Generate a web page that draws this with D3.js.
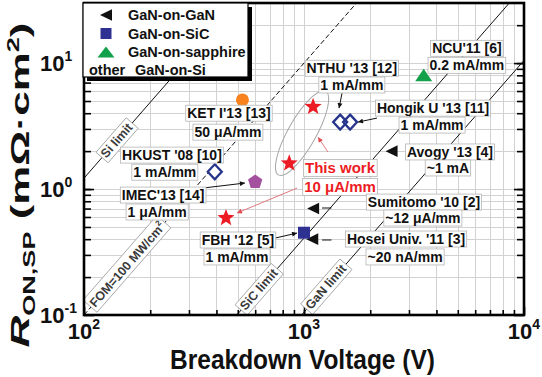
<!DOCTYPE html>
<html><head><meta charset="utf-8">
<script src="https://cdn.jsdelivr.net/npm/d3@7/dist/d3.min.js"></script>
<style>
html,body{margin:0;padding:0;background:#fff;}
svg{display:block;}
text{font-family:"Liberation Sans",Arial,Helvetica,sans-serif;font-weight:bold;}
</style></head>
<body>
<svg id="chart" width="542" height="377"></svg>
<script>
// ---------------- data ----------------
const ganOnGaNV = [2500, 1100, 1090];
const ganOnGaNR = [2.0, 0.70, 0.40];
const ganOnSiCV = [1000];
const ganOnSiCR = [0.45];
const ganOnSapphireV = [3500];
const ganOnSapphireR = [8.0];
const ketV = [525];
const ketR = [5.1];
const hkustV = [393];
const hkustR = [1.37];
const imecV = [600];
const imecR = [1.14];
const hongikV = [1460, 1620];
const hongikR = [3.4, 3.4];
const thisWorkV = [1100, 857, 442];
const thisWorkR = [4.5, 1.6, 0.59];

const limitNames = ["Si limit", "FOM=100 MW/cm", "SiC limit", "GaN limit"];
const limitSup = ["", "2", "", ""];
const limitStartV = [100, 100, 495, 975];
const limitStartR = [1.22, 0.1, 0.1, 0.1];
const limitEndV = [500, 1732, 8574, 10000];
const limitEndR = [30.5, 30, 30, 10.5];
const limitDash = [null, "5,2.5", null, null];
const limitLabelV = [141, 158, 624, 1259];

const xMajor = [100, 1000, 10000];
const xMajorExp = ["2", "3", "4"];
const yMajor = [0.1, 1, 10];
const yMajorExp = ["-1", "0", "1"];
const xGrid = [200,300,400,500,600,700,800,900,1000,2000,3000,4000,5000,6000,7000,8000,9000];
const yGrid = [0.2,0.3,0.4,0.5,0.6,0.7,0.8,0.9,1,2,3,4,5,6,7,8,9,10,20];

const annText = ["NCU'11 [6]","0.2 mA/mm","NTHU '13 [12]","1 mA/mm","Hongik U '13 [11]","1 mA/mm",
  "KET I'13 [13]","50 μA/mm","HKUST '08 [10]","1 mA/mm","IMEC'13 [14]","1 μA/mm",
  "This work","10 μA/mm","Avogy '13 [4]","~1 mA","Sumitomo '10 [2]","~12 μA/mm",
  "Hosei Univ. '11 [3]","~20 nA/mm","FBH '12 [5]","1 mA/mm"];
const annV = [5500,5500,1650,1650,3860,3820,456,451,251,233,229,215,1458,1458,4610,4510,3510,3470,2910,2880,501,496];
const annR = [13.1,9.6,9.1,6.7,4.39,3.22,4.0,2.83,1.86,1.36,0.896,0.657,1.47,1.04,1.97,1.47,0.788,0.589,0.401,0.289,0.394,0.289];
const annRed = [0,0,0,0,0,0,0,0,0,0,0,0,1,1,0,0,0,0,0,0,0,0];

const leaderFromV = [347, 738, 1489, 2147, 1333, 1333];
const leaderFromR = [1.018, 0.408, 5.78, 3.66, 0.707, 0.394];
const leaderToV = [539, 930, 1443, 1760, 1208, 1208];
const leaderToR = [1.116, 0.447, 4.39, 3.40, 0.707, 0.394];
const leaderArrow = [1, 1, 1, 1, 0, 0];
const redFromV = [930, 1285];
const redFromR = [1.018, 1.967];
const redToV = [496, 1158];
const redToR = [0.645, 2.58];
const ellipseV = 980, ellipseR = 2.78;

const legendLabels = ["GaN-on-GaN", "GaN-on-SiC", "GaN-on-sapphire"];
const legendOtherA = "other";
const legendOtherB = "GaN-on-Si";

// ---------------- chart ----------------
const svg = d3.select("#chart");
const x = d3.scaleLog().domain([100, 10000]).range([84, 524]);
const y = d3.scaleLog().domain([0.1, 30]).range([315, 3]);
const L = 84, R = 524, T = 3, B = 315;

const defs = svg.append("defs");
defs.append("clipPath").attr("id", "plot").append("rect")
  .attr("x", L).attr("y", T).attr("width", R - L).attr("height", B - T);
function marker(id, color) {
  defs.append("marker").attr("id", id).attr("viewBox", "0 0 10 10")
    .attr("refX", 10).attr("refY", 5).attr("markerWidth", 6).attr("markerHeight", 5)
    .attr("markerUnits", "userSpaceOnUse").attr("orient", "auto")
    .append("path").attr("d", "M0,0L10,5L0,10Z").attr("fill", color);
}
marker("arrK", "#111");
marker("arrR", "#e0484e");

// grid
const grid = svg.append("g").attr("stroke", "#d2d2d2").attr("stroke-width", 1);
grid.selectAll("line.gx").data(xGrid).join("line").attr("class", "gx")
  .attr("x1", d => Math.round(x(d)) + 0.5).attr("x2", d => Math.round(x(d)) + 0.5)
  .attr("y1", T).attr("y2", B);
grid.selectAll("line.gy").data(yGrid).join("line").attr("class", "gy")
  .attr("y1", d => Math.round(y(d)) + 0.5).attr("y2", d => Math.round(y(d)) + 0.5)
  .attr("x1", L).attr("x2", R);

// ticks
function styleAxis(g) { g.select(".domain").remove(); g.selectAll("line").attr("stroke", "#000").attr("stroke-width", 1.6); }
svg.append("g").attr("transform", `translate(0,${B})`)
  .call(d3.axisBottom(x).tickValues(xGrid).tickSize(-5).tickFormat("")).call(styleAxis);
svg.append("g").attr("transform", `translate(0,${B})`)
  .call(d3.axisBottom(x).tickValues(xMajor).tickSize(-8).tickFormat("")).call(styleAxis);
svg.append("g").attr("transform", `translate(${L},0)`)
  .call(d3.axisLeft(y).tickValues(yGrid).tickSize(-7).tickFormat("")).call(styleAxis);
svg.append("g").attr("transform", `translate(${L},0)`)
  .call(d3.axisLeft(y).tickValues(yMajor).tickSize(-10).tickFormat("")).call(styleAxis);
svg.append("g").attr("transform", `translate(${R},0)`)
  .call(d3.axisRight(y).tickValues(yGrid).tickSize(-7).tickFormat("")).call(styleAxis);
svg.append("g").attr("transform", `translate(${R},0)`)
  .call(d3.axisRight(y).tickValues(yMajor).tickSize(-10).tickFormat("")).call(styleAxis);

// limit lines
const lim = svg.append("g").attr("clip-path", "url(#plot)");
limitNames.forEach((n, i) => {
  lim.append("line")
    .attr("x1", x(limitStartV[i])).attr("y1", y(limitStartR[i]))
    .attr("x2", x(limitEndV[i])).attr("y2", y(limitEndR[i]))
    .attr("stroke", "#111").attr("stroke-width", 1)
    .attr("stroke-dasharray", limitDash[i]);
});

// ellipse around this-work points
svg.append("ellipse").attr("cx", x(ellipseV)).attr("cy", y(ellipseR))
  .attr("rx", 48).attr("ry", 14)
  .attr("transform", `rotate(-60.5 ${x(ellipseV)} ${y(ellipseR)})`)
  .attr("fill", "none").attr("stroke", "#a8a8a8").attr("stroke-width", 1);

// leader lines
leaderFromV.forEach((v, i) => {
  svg.append("line").attr("x1", x(v)).attr("y1", y(leaderFromR[i]))
    .attr("x2", x(leaderToV[i])).attr("y2", y(leaderToR[i]))
    .attr("stroke", "#111").attr("stroke-width", 1)
    .attr("marker-end", leaderArrow[i] ? "url(#arrK)" : null);
});
redFromV.forEach((v, i) => {
  svg.append("line").attr("x1", x(v)).attr("y1", y(redFromR[i]))
    .attr("x2", x(redToV[i])).attr("y2", y(redToR[i]))
    .attr("stroke", "#e0787c").attr("stroke-width", 1)
    .attr("marker-end", "url(#arrR)");
});

// limit labels (rotated boxes on the lines)
limitNames.forEach((n, i) => {
  const lv0 = Math.log10(limitStartV[i]), lv1 = Math.log10(limitEndV[i]);
  const lr0 = Math.log10(limitStartR[i]), lr1 = Math.log10(limitEndR[i]);
  const t = (Math.log10(limitLabelV[i]) - lv0) / (lv1 - lv0);
  const rv = Math.pow(10, lr0 + t * (lr1 - lr0));
  const px = x(limitLabelV[i]), py = y(rv);
  const ang = Math.atan2(y(limitEndR[i]) - y(limitStartR[i]), x(limitEndV[i]) - x(limitStartV[i])) * 180 / Math.PI;
  const g = svg.append("g").attr("transform", `translate(${px},${py}) rotate(${ang})`);
  const rect = g.append("rect");
  const tx = g.append("text").attr("text-anchor", "middle").attr("dominant-baseline", "central")
    .attr("font-size", 12.5).attr("font-weight", "normal").attr("fill", "#3a3a3a").text(n);
  if (limitSup[i]) tx.append("tspan").attr("font-size", 8).attr("dy", -5).text(limitSup[i]);
  const bb = tx.node().getBBox();
  rect.attr("x", bb.x - 2).attr("y", bb.y - 1).attr("width", bb.width + 4).attr("height", bb.height + 2)
    .attr("fill", "#fff").attr("stroke", "#9a9a9a").attr("stroke-width", 0.8);
});

// markers
const pts = svg.append("g");
function starPath(ro, ri) {
  let p = [];
  for (let k = 0; k < 10; k++) {
    const a = -Math.PI / 2 + k * Math.PI / 5, r = k % 2 ? ri : ro;
    p.push([r * Math.cos(a), r * Math.sin(a)]);
  }
  return "M" + p.map(q => q.join(",")).join("L") + "Z";
}
function polyPath(n, r) {
  let p = [];
  for (let k = 0; k < n; k++) {
    const a = -Math.PI / 2 + k * 2 * Math.PI / n;
    p.push([r * Math.cos(a), r * Math.sin(a)]);
  }
  return "M" + p.map(q => q.join(",")).join("L") + "Z";
}
const leftTri = "M-6,0L6,-5.8L6,5.8Z";
const upTri = "M0,-6.5L8.5,6L-8.5,6Z";
const diamond = "M0,-7.5L7,0L0,7.5L-7,0Z";
function draw(vs, rs, path, attrs) {
  vs.forEach((v, i) => {
    const p = pts.append("path").attr("d", path)
      .attr("transform", `translate(${x(v)},${y(rs[i])})`);
    Object.entries(attrs).forEach(([k, a]) => p.attr(k, a));
  });
}
draw(ganOnGaNV, ganOnGaNR, leftTri, { fill: "#111" });
draw(ganOnSiCV, ganOnSiCR, "M-6,-6H6V6H-6Z", { fill: "#2e3192" });
draw(ganOnSapphireV, ganOnSapphireR, upTri, { fill: "#12a14a" });
ketV.forEach((v, i) => pts.append("circle").attr("cx", x(v)).attr("cy", y(ketR[i])).attr("r", 6.5).attr("fill", "#f7821e"));
draw(hkustV, hkustR, diamond, { fill: "#fff", stroke: "#27348b", "stroke-width": 2.3 });
draw(hongikV, hongikR, diamond, { fill: "none", stroke: "#27348b", "stroke-width": 2.3 });
draw(imecV, imecR, polyPath(5, 7.5), { fill: "#a3509f" });
draw(thisWorkV, thisWorkR, starPath(9, 3.8), { fill: "#ed1c24" });

// annotation labels
annText.forEach((s, i) => {
  const g = svg.append("g");
  const rect = g.append("rect");
  const tx = g.append("text").attr("x", x(annV[i])).attr("y", y(annR[i]))
    .attr("text-anchor", "middle").attr("dominant-baseline", "central")
    .attr("font-size", annRed[i] ? 15 : 14).attr("fill", annRed[i] ? "#ed1c24" : "#111").text(s);
  const bb = tx.node().getBBox();
  rect.attr("x", bb.x - 1.5).attr("y", bb.y).attr("width", bb.width + 3).attr("height", bb.height)
    .attr("fill", "#fff").attr("stroke", "#b5b5b5").attr("stroke-width", 0.8);
});

// frame
svg.append("rect").attr("x", L).attr("y", T).attr("width", R - L).attr("height", B - T)
  .attr("fill", "none").attr("stroke", "#000").attr("stroke-width", 2.6);

// legend
const lg = svg.append("g");
lg.append("rect").attr("x", 87).attr("y", 7).attr("width", 165).attr("height", 74).attr("fill", "#000");
lg.append("rect").attr("x", 83).attr("y", 3).attr("width", 165).attr("height", 74)
  .attr("fill", "#fff").attr("stroke", "#000").attr("stroke-width", 1.2);
const legendY = [15, 33.5, 52];
const legendPaths = [leftTri, "M-5.5,-5.5H5.5V5.5H-5.5Z", "M0,-5.5L8.5,5.5L-8.5,5.5Z"];
const legendFill = ["#111", "#2e3192", "#12a14a"];
legendLabels.forEach((s, i) => {
  lg.append("path").attr("d", legendPaths[i]).attr("fill", legendFill[i])
    .attr("transform", `translate(106,${legendY[i]})`);
  lg.append("text").attr("x", 128).attr("y", legendY[i]).attr("dominant-baseline", "central")
    .attr("font-size", 14.5).attr("fill", "#111").text(s);
});
lg.append("text").attr("x", 89).attr("y", 70).attr("dominant-baseline", "central")
  .attr("font-size", 14.5).attr("fill", "#111").text(legendOtherA);
lg.append("text").attr("x", 135).attr("y", 70).attr("dominant-baseline", "central")
  .attr("font-size", 14.5).attr("fill", "#111").text(legendOtherB);

// tick labels
xMajor.forEach((v, i) => {
  const t = svg.append("text").attr("x", x(v)).attr("y", 339).attr("text-anchor", "middle")
    .attr("font-size", 22).attr("fill", "#111").text("10");
  t.append("tspan").attr("font-size", 14).attr("dy", -10).text(xMajorExp[i]);
});
yMajor.forEach((v, i) => {
  const t = svg.append("text").attr("x", 40).attr("y", y(v) + 8).attr("text-anchor", "start")
    .attr("font-size", 22).attr("fill", "#111").text("10");
  t.append("tspan").attr("font-size", 14).attr("dy", -10).text(yMajorExp[i]);
});

// axis titles
const xt = svg.append("text").attr("text-anchor", "middle").attr("font-size", 27).attr("fill", "#111")
  .text("Breakdown Voltage (V)");
const xw = xt.node().getComputedTextLength();
xt.attr("transform", `translate(302.5,369) scale(${265 / xw},1)`);

const yt = svg.append("text").attr("text-anchor", "middle").attr("font-size", 26).attr("fill", "#111");
yt.append("tspan").attr("font-style", "italic").text("R");
yt.append("tspan").attr("font-size", 16).attr("dy", 6).text("ON,SP");
yt.append("tspan").attr("dy", -6).text(" (mΩ·cm");
yt.append("tspan").attr("font-size", 16).attr("dy", -10).text("2");
yt.append("tspan").attr("dy", 10).text(")");
const yw = yt.node().getBBox().width;
yt.attr("transform", `translate(29,185) rotate(-90) scale(${325 / yw},1)`);
</script>
</body></html>
